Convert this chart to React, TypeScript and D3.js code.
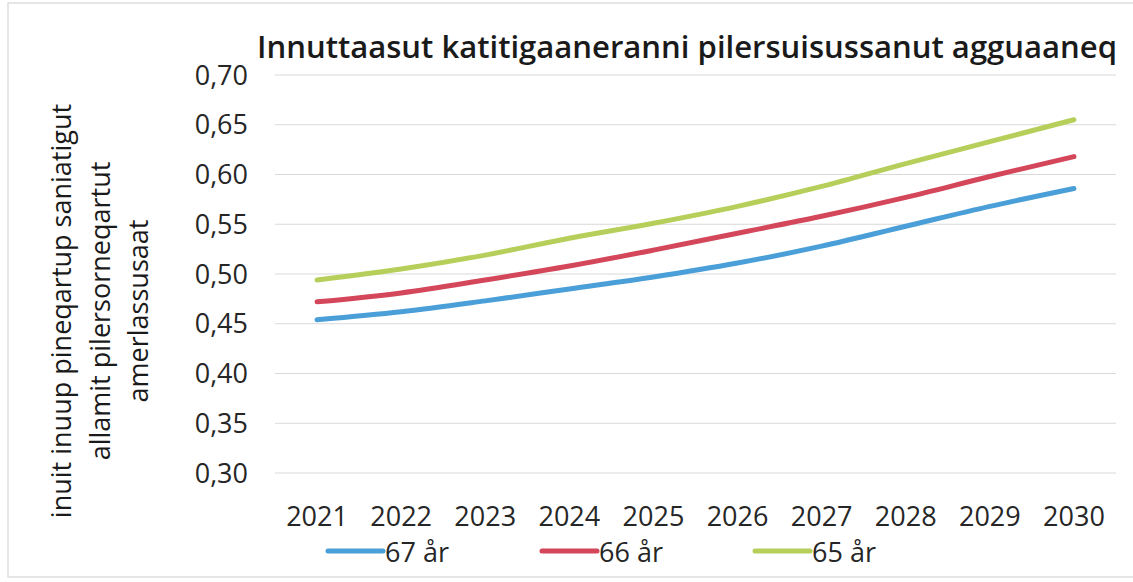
import React from "react";
import * as d3 from "d3";

const years = ["2021", "2022", "2023", "2024", "2025", "2026", "2027", "2028", "2029", "2030"];
const yTicks = [0.3, 0.35, 0.4, 0.45, 0.5, 0.55, 0.6, 0.65, 0.7];
const s67 = [0.454, 0.462, 0.473, 0.485, 0.497, 0.511, 0.528, 0.548, 0.568, 0.586];
const s66 = [0.472, 0.481, 0.494, 0.508, 0.524, 0.541, 0.558, 0.577, 0.598, 0.618];
const s65 = [0.494, 0.505, 0.519, 0.536, 0.551, 0.568, 0.588, 0.611, 0.633, 0.655];
const seriesNames = ["67 år", "66 år", "65 år"];
const seriesColors = ["#4a9fd8", "#d4475b", "#b6cf5a"];
const title = "Innuttaasut katitigaaneranni pilersuisussanut agguaaneq";
const yTitleLines = ["inuit inuup pineqartup saniatigut", "allamit pilersorneqartut", "amerlassusaat"];

const W = 1133;
const H = 582;
const FONT = "'Open Sans', 'DejaVu Sans', sans-serif";

export default function App() {
  const x = d3.scaleBand<string>().domain(years).range([275, 1116]);
  const y = d3.scaleLinear().domain([0.3, 0.7]).range([473, 75]);
  const line = d3
    .line<number>()
    .x((_, i) => (x(years[i]) as number) + x.bandwidth() / 2)
    .y((d) => y(d))
    .curve(d3.curveCatmullRom.alpha(0.5));
  const all = [s67, s66, s65];
  const legendX = [328, 542, 755];

  return (
    <svg
      width={W}
      height={H}
      style={{ position: "absolute", left: 0, top: 0, background: "#fff", display: "block" }}
      fontFamily={FONT}
    >
      <rect x={8} y={3} width={1140} height={574} fill="#fff" stroke="#d6d6d6" strokeWidth={1.2} />
      <text
        x={257}
        y={58}
        fontSize={30}
        fontWeight={600}
        fill="#1a1a1a"
        textLength={860}
        lengthAdjust="spacingAndGlyphs"
      >
        {title}
      </text>
      {yTicks.map((t) => (
        <g key={t}>
          <line x1={275} x2={1116} y1={y(t)} y2={y(t)} stroke="#d9d9d9" strokeWidth={1} />
          <text x={248} y={y(t)} dy="0.36em" textAnchor="end" fontSize={27} fill="#262626">
            {d3.format(".2f")(t).replace(".", ",")}
          </text>
        </g>
      ))}
      {years.map((yr) => (
        <text
          key={yr}
          x={(x(yr) as number) + x.bandwidth() / 2}
          y={526}
          textAnchor="middle"
          fontSize={27}
          fill="#262626"
        >
          {yr}
        </text>
      ))}
      <g transform="translate(0,311) rotate(-90)">
        {yTitleLines.map((l, i) => (
          <text key={i} x={0} y={71 + i * 38.5} textAnchor="middle" fontSize={27} fill="#1a1a1a">
            {l}
          </text>
        ))}
      </g>
      {all.map((s, i) => (
        <path
          key={i}
          d={line(s) || ""}
          fill="none"
          stroke={seriesColors[i]}
          strokeWidth={5}
          strokeLinecap="round"
          strokeLinejoin="round"
        />
      ))}
      {seriesNames.map((n, i) => (
        <g key={n}>
          <line
            x1={legendX[i]}
            x2={legendX[i] + 55}
            y1={551}
            y2={551}
            stroke={seriesColors[i]}
            strokeWidth={5}
            strokeLinecap="round"
          />
          <text x={legendX[i] + 57} y={562} fontSize={27} fill="#262626">
            {n}
          </text>
        </g>
      ))}
    </svg>
  );
}
